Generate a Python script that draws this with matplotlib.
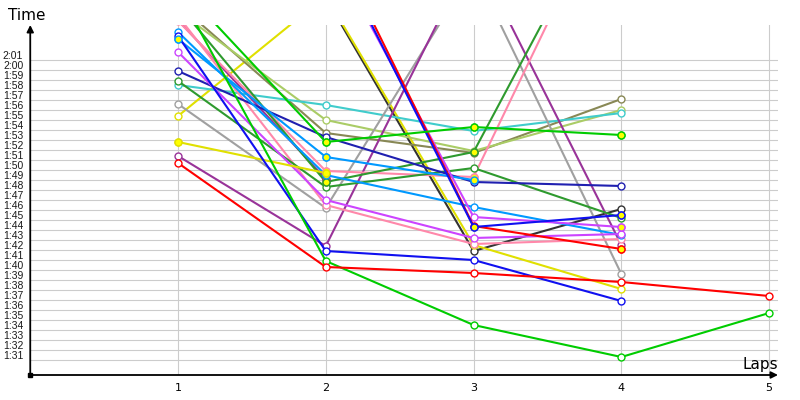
import numpy as np
import matplotlib.pyplot as plt
from matplotlib.transforms import ScaledTranslation

nan = np.nan
laps = [1, 2, 3, 4, 5]

# lap times in seconds, one list per car (nan = no lap)
red_a = [110.7, 100.3, 99.7, 98.8, 97.4]
lime_a = [127.9, 100.9, 94.5, 91.3, 95.7]
lime_b = [128.6, 112.8, 114.3, 113.5, nan]
blue_a = [123.4, 101.9, 101.0, 96.9, nan]
blue_b = [131.0, 133.6, 104.3, 105.5, nan]
navy = [119.9, 113.3, 108.8, 108.4, nan]
green_a = [118.9, 108.3, 110.2, 105.2, nan]
green_b = [126.5, 108.8, 111.8, 139.5, nan]
cyan = [118.5, 116.5, 113.9, 115.7, nan]
gray = [116.6, 106.2, 130.1, 99.6, nan]
yellow_a = [112.8, 109.7, nan, nan, nan]
yellow_b = [115.4, 127.4, 102.5, 98.1, nan]
purple_a = [111.4, 102.4, 131.9, 102.5, nan]
purple_b = [125.0, 109.1, nan, nan, nan]
violet_a = [121.8, 107.0, 103.2, 103.6, nan]
violet_b = [130.0, 132.8, 105.3, 104.3, nan]
sky_a = [123.1, 111.3, 109.0, nan, nan]
sky_b = [123.8, 109.5, 106.3, 103.5, nan]
pink_a = [124.9, 109.9, 109.3, 140.0, nan]
pink_b = [125.4, 106.5, 102.6, 103.1, nan]
olive = [126.6, 113.7, 111.7, 117.1, nan]
ygreen = [125.9, 115.0, 111.9, 116.0, nan]
dgray = [129.0, 127.2, 101.9, 106.1, nan]
red_b = [130.5, 134.3, 104.4, 102.1, nan]

# laps drawn with a yellow filled marker
marked = {
    'lime_b': [2, 3, 4], 'blue_b': [3, 4], 'green_b': [2, 3], 'yellow_a': [1, 2],
    'purple_b': [2], 'violet_b': [4], 'sky_a': [1, 2, 3], 'sky_b': [2],
    'pink_a': [2, 3], 'red_b': [4],
}

series = [
    ('dgray', dgray, '#333333'), ('yellow_b', yellow_b, '#E0E000'),
    ('olive', olive, '#888855'), ('ygreen', ygreen, '#AACC66'),
    ('cyan', cyan, '#40CCCC'), ('gray', gray, '#A0A0A0'),
    ('purple_a', purple_a, '#993399'), ('purple_b', purple_b, '#993399'),
    ('pink_b', pink_b, '#FF88AA'), ('pink_a', pink_a, '#FF88AA'),
    ('green_a', green_a, '#2E9A2E'), ('green_b', green_b, '#2E9A2E'),
    ('navy', navy, '#2020B0'), ('sky_a', sky_a, '#0099FF'),
    ('sky_b', sky_b, '#0099FF'), ('violet_a', violet_a, '#CC44FF'),
    ('violet_b', violet_b, '#CC44FF'), ('yellow_a', yellow_a, '#E0E000'),
    ('red_b', red_b, '#FF0000'), ('blue_b', blue_b, '#1010F0'),
    ('lime_b', lime_b, '#00CC00'), ('blue_a', blue_a, '#1010F0'),
    ('lime_a', lime_a, '#00CC00'), ('red_a', red_a, '#FF0000'),
]

fig = plt.figure(figsize=(8, 4), dpi=100)
ax = fig.add_axes([30.25 / 800, 25 / 400, 747.75 / 800, 350 / 400])

for name, vals, col in series:
    ax.plot(laps, vals, color=col, lw=1.5, marker='o', ms=5,
            mfc='white', mec=col, mew=1.0, zorder=3)
    hl = marked.get(name, [])
    if hl:
        ax.plot(hl, [vals[l - 1] for l in hl], ls='none', marker='o', ms=5,
                mfc='#FFFF00', mec=col, mew=1.0, zorder=4)

ax.set_xlim(0, 5.06)
ax.set_ylim(89.5, 124.5)

yt = list(range(91, 122))
ax.set_yticks(yt)
ax.set_yticklabels([f'{t // 60}:{t % 60:02d}' for t in yt],
                   fontsize=7.5, family='Liberation Sans', color='#1a1a1a')
ax.set_xticks(laps)
ax.set_xticklabels([str(l) for l in laps], fontsize=8)
ax.tick_params(axis='y', length=0, pad=5)
ax.tick_params(axis='x', length=0, pad=6)
off = ScaledTranslation(0, 0.05, fig.dpi_scale_trans)
for lab in ax.get_yticklabels():
    lab.set_transform(lab.get_transform() + off)

ax.grid(True, color='#CCCCCC', lw=0.8, zorder=0)
ax.set_axisbelow(True)
for s in ax.spines.values():
    s.set_visible(False)

ax.annotate('', xy=(0, 1.0), xytext=(0, 0), xycoords='axes fraction',
            arrowprops=dict(arrowstyle='-|>', color='black', lw=1.3,
                            mutation_scale=10, shrinkA=0, shrinkB=0))
ax.annotate('', xy=(1.0, 0), xytext=(0, 0), xycoords='axes fraction',
            arrowprops=dict(arrowstyle='-|>', color='black', lw=1.3,
                            mutation_scale=10, shrinkA=0, shrinkB=0))
ax.plot([0], [0], marker='s', ms=3, color='black', transform=ax.transAxes,
        clip_on=False)

fig.text(8 / 800, 1 - 16 / 400, 'Time', fontsize=11, va='center', ha='left')
fig.text(743 / 800, 1 - 364 / 400, 'Laps', fontsize=11, va='center', ha='left')

plt.savefig('out.png', dpi=100)
